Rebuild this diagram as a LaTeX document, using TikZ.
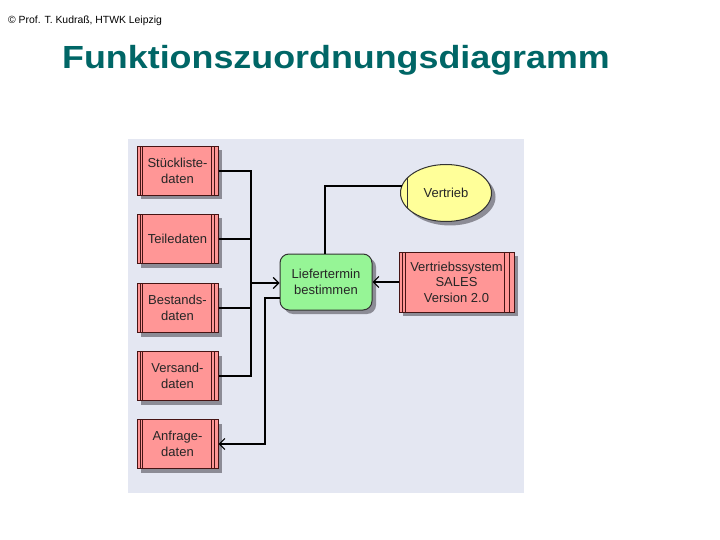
\documentclass[tikz,border=0pt]{standalone}
\usepackage{fontspec}
\setmainfont{Liberation Sans}
\usetikzlibrary{shapes.geometric,shadows,arrows.meta}
\definecolor{bgpanel}{RGB}{228,231,242}
\definecolor{datafill}{RGB}{255,150,150}
\definecolor{fnfill}{RGB}{150,245,150}
\definecolor{orgfill}{RGB}{255,255,153}
\definecolor{titlecol}{RGB}{0,102,102}
\definecolor{edgecol}{RGB}{70,20,20}
\definecolor{shadowcol}{RGB}{140,140,150}
\tikzset{
  shad/.style={drop shadow={shadow xshift=4pt,shadow yshift=-4pt,fill=shadowcol,opacity=1}},
  lbl/.style={font=\fontsize{13}{15.5}\selectfont,text=black!85,align=center,inner sep=0pt},
  databox/.style={lbl,shad,rectangle,draw=edgecol,line width=1pt,fill=datafill,
    minimum width=81pt,minimum height=49pt,
    path picture={
      \draw[edgecol,line width=0.8pt]
        ([xshift=3pt]path picture bounding box.north west) -- ([xshift=3pt]path picture bounding box.south west)
        ([xshift=5.5pt]path picture bounding box.north west) -- ([xshift=5.5pt]path picture bounding box.south west)
        ([xshift=-4pt]path picture bounding box.north east) -- ([xshift=-4pt]path picture bounding box.south east)
        ([xshift=-7pt]path picture bounding box.north east) -- ([xshift=-7pt]path picture bounding box.south east);
    }},
  sysbox/.style={lbl,shad,rectangle,draw=edgecol,line width=1pt,fill=datafill,
    minimum width=115pt,minimum height=60pt,
    path picture={
      \draw[edgecol,line width=0.8pt]
        ([xshift=3pt]path picture bounding box.north west) -- ([xshift=3pt]path picture bounding box.south west)
        ([xshift=6pt]path picture bounding box.north west) -- ([xshift=6pt]path picture bounding box.south west)
        ([xshift=-5pt]path picture bounding box.north east) -- ([xshift=-5pt]path picture bounding box.south east)
        ([xshift=-10pt]path picture bounding box.north east) -- ([xshift=-10pt]path picture bounding box.south east);
    }},
  fnbox/.style={lbl,shad,rectangle,rounded corners=9pt,draw=black!80,line width=1pt,fill=fnfill,
    minimum width=92pt,minimum height=56pt},
  orgunit/.style={lbl,shad,ellipse,draw=black!80,line width=1pt,fill=orgfill,
    minimum width=91pt,minimum height=57pt,
    path picture={
      \draw[black!80,line width=0.9pt]
        ([xshift=7pt]path picture bounding box.north west) -- ([xshift=7pt]path picture bounding box.south west);
    }},
  conn/.style={black,line width=1.6pt},
  thinconn/.style={black,line width=1.1pt},
  arr/.style={conn,-{Straight Barb[length=5.5pt,width=11pt,line width=1.2pt]}},
}
\begin{document}
\begin{tikzpicture}[x=1pt,y=-1pt]
\useasboundingbox (0,0) rectangle (720,540);
\fill[white] (0,0) rectangle (720,540);
\node[anchor=base west,inner sep=0pt,font=\fontsize{10.4}{12}\selectfont] (hdr) at (8,24) {© Prof. T. Kudraß, HTWK Leipzig};
\node[anchor=base west,inner sep=0pt,text=titlecol,font=\fontsize{32}{36}\selectfont\bfseries] (title) at (62,69) {\scalebox{1.12}[1]{Funktionszuordnungsdiagramm}};
\fill[bgpanel] (128,139) rectangle (524,493);
% data boxes
\node[databox] (st) at (177.5,171) {Stückliste-\\daten};
\node[databox] (td) at (177.5,239) {Teiledaten};
\node[databox] (bd) at (177.5,308) {Bestands-\\daten};
\node[databox] (vd) at (177.5,376) {Versand-\\daten};
\node[databox] (ad) at (177.5,444) {Anfrage-\\daten};
\node[fnbox] (lt) at (326,282) {Liefertermin\\bestimmen};
\node[orgunit] (vt) at (446,193) {Vertrieb};
\node[sysbox] (vs) at (456.5,282) {Vertriebssystem\\SALES\\Version 2.0};
% junctions
\coordinate (jt) at (251,171);
\coordinate (jb) at (251,376);
\coordinate (ja) at (251,283);
\coordinate (ob) at (265,298);
\coordinate (oa) at (265,444);
\coordinate (vp) at (402,186);
\coordinate (vk) at (325,186);
% connectors
\draw[conn] (st.east) -- (jt) -- (jb) -- (vd.east);
\draw[conn] (td.east) -- (td.east -| jt);
\draw[conn] (bd.east) -- (bd.east -| jt);
\draw[arr] (ja) -- (ja -| lt.west);
\draw[arr] (ob -| lt.west) -- (ob) -- (oa) -- (ad.east);
\draw[thinconn] (vp) -- (vk) -- (vk |- lt.north);
\draw[arr] (vs.west) -- (lt.east);
\end{tikzpicture}
\end{document}
